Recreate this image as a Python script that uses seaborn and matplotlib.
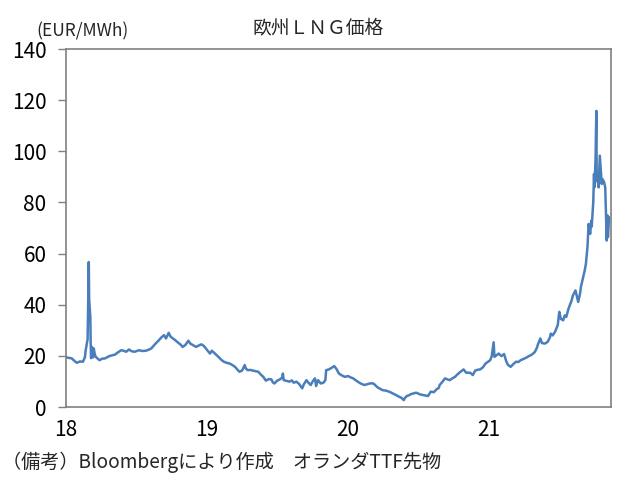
import matplotlib
matplotlib.use("Agg")
import matplotlib.pyplot as plt
import pandas as pd
import seaborn as sns

# TTF front-month price (EUR/MWh)
dates = [
    "2018-01-02", "2018-01-09", "2018-01-16", "2018-01-23", "2018-01-29", "2018-02-06",
    "2018-02-14", "2018-02-19", "2018-02-21", "2018-02-26", "2018-03-01", "2018-03-02",
    "2018-03-05", "2018-03-06", "2018-03-07", "2018-03-09", "2018-03-12", "2018-03-14",
    "2018-03-16", "2018-03-19", "2018-03-29", "2018-04-05", "2018-04-12", "2018-04-23",
    "2018-04-30", "2018-05-08", "2018-05-15", "2018-05-24", "2018-05-30", "2018-06-06",
    "2018-06-13", "2018-06-20", "2018-06-28", "2018-07-09", "2018-07-18", "2018-07-27",
    "2018-08-03", "2018-08-10", "2018-08-21", "2018-08-29", "2018-09-05", "2018-09-12",
    "2018-09-17", "2018-09-24", "2018-09-29", "2018-10-05", "2018-10-12", "2018-10-19",
    "2018-10-25", "2018-10-30", "2018-11-06", "2018-11-14", "2018-11-19", "2018-11-26",
    "2018-12-04", "2018-12-13", "2018-12-18", "2018-12-24",
    "2019-01-02", "2019-01-09", "2019-01-14", "2019-01-21", "2019-01-31", "2019-02-07",
    "2019-02-14", "2019-02-21", "2019-03-01", "2019-03-08", "2019-03-15", "2019-03-20",
    "2019-03-26", "2019-04-02", "2019-04-09", "2019-04-12", "2019-04-17", "2019-04-24",
    "2019-05-01", "2019-05-08", "2019-05-14", "2019-05-20", "2019-05-27", "2019-06-03",
    "2019-06-10", "2019-06-17", "2019-06-21", "2019-06-25", "2019-07-02", "2019-07-09",
    "2019-07-15", "2019-07-17", "2019-07-19", "2019-07-26", "2019-08-03", "2019-08-09",
    "2019-08-14", "2019-08-21", "2019-08-28", "2019-09-05", "2019-09-09", "2019-09-16",
    "2019-09-21", "2019-09-27", "2019-10-02", "2019-10-08", "2019-10-11", "2019-10-16",
    "2019-10-23", "2019-10-30", "2019-11-04", "2019-11-06", "2019-11-13", "2019-11-20",
    "2019-11-27", "2019-12-03", "2019-12-09", "2019-12-16", "2019-12-24",
    "2020-01-02", "2020-01-08", "2020-01-15", "2020-01-22", "2020-01-31", "2020-02-06",
    "2020-02-13", "2020-02-20", "2020-02-27", "2020-03-04", "2020-03-09", "2020-03-13",
    "2020-03-18", "2020-03-24", "2020-03-31", "2020-04-09", "2020-04-17", "2020-04-23",
    "2020-04-29", "2020-05-06", "2020-05-13", "2020-05-19", "2020-05-25", "2020-05-28",
    "2020-06-02", "2020-06-08", "2020-06-12", "2020-06-19", "2020-06-26", "2020-07-01",
    "2020-07-07", "2020-07-13", "2020-07-20", "2020-07-27", "2020-08-03", "2020-08-11",
    "2020-08-18", "2020-08-24", "2020-08-26", "2020-09-02", "2020-09-09", "2020-09-15",
    "2020-09-21", "2020-09-28", "2020-10-05", "2020-10-10", "2020-10-16", "2020-10-21",
    "2020-10-27", "2020-11-03", "2020-11-13", "2020-11-20", "2020-11-26", "2020-12-01",
    "2020-12-09", "2020-12-16", "2020-12-23",
    "2021-01-04", "2021-01-08", "2021-01-13", "2021-01-15", "2021-01-26", "2021-02-02",
    "2021-02-09", "2021-02-15", "2021-02-19", "2021-02-26", "2021-03-05", "2021-03-12",
    "2021-03-18", "2021-03-24", "2021-03-31", "2021-04-09", "2021-04-14", "2021-04-20",
    "2021-04-26", "2021-04-30", "2021-05-06", "2021-05-07", "2021-05-14", "2021-05-18",
    "2021-05-26", "2021-06-02", "2021-06-08", "2021-06-10", "2021-06-15", "2021-06-21",
    "2021-06-28", "2021-07-01", "2021-07-02", "2021-07-06", "2021-07-12", "2021-07-16",
    "2021-07-20", "2021-07-26", "2021-08-03", "2021-08-06", "2021-08-13", "2021-08-17",
    "2021-08-20", "2021-08-25", "2021-08-27", "2021-09-02", "2021-09-06", "2021-09-09",
    "2021-09-13", "2021-09-16", "2021-09-20", "2021-09-23", "2021-09-24", "2021-09-28",
    "2021-09-30", "2021-10-01", "2021-10-04", "2021-10-06", "2021-10-07", "2021-10-08",
    "2021-10-12", "2021-10-15", "2021-10-19", "2021-10-20", "2021-10-22", "2021-10-26",
    "2021-10-29", "2021-11-02", "2021-11-04", "2021-11-05", "2021-11-08",
]
prices = [
    19.4, 19.2, 19.0, 18.0, 17.3, 17.8,
    17.7, 19.5, 22.2, 26.5, 56.7, 42.0,
    35.2, 24.5, 19.1, 23.5, 19.4, 22.9,
    21.0, 19.6, 18.3, 18.9, 19.0, 19.9,
    20.2, 20.5, 21.3, 22.2, 22.0, 21.6,
    22.5, 21.8, 21.6, 22.2, 21.9, 22.0,
    22.4, 22.9, 24.8, 26.0, 27.2, 28.1,
    26.8, 29.0, 27.5, 26.8, 26.0, 25.1,
    24.4, 23.5, 24.2, 25.9, 24.8, 24.2,
    23.5, 24.2, 24.5, 23.9,
    22.2, 20.9, 22.0, 21.0, 19.6, 18.5,
    17.7, 17.3, 17.0, 16.4, 15.7, 14.8,
    13.8, 14.2, 16.4, 15.0, 14.4, 14.5,
    14.2, 14.0, 13.8, 12.8, 11.8, 10.3,
    10.9, 10.8, 9.6, 9.2, 10.3, 10.8,
    11.5, 13.1, 10.5, 10.2, 9.9, 10.4,
    9.5, 9.9, 9.0, 7.3, 8.8, 10.5,
    9.5, 8.6, 10.0, 11.2, 8.2, 10.5,
    9.2, 9.5, 10.5, 14.4, 14.7, 15.3,
    16.0, 14.8, 13.1, 12.4, 11.8,
    12.1, 11.6, 11.2, 10.4, 9.5, 9.0,
    8.6, 8.9, 9.2, 9.3, 9.0, 8.4,
    7.7, 7.2, 6.6, 6.4, 6.0, 5.6,
    5.1, 4.6, 4.0, 3.6, 2.7, 3.5,
    4.3, 4.6, 5.0, 5.3, 5.6, 5.3,
    4.9, 4.7, 4.5, 4.3, 6.0, 5.8,
    6.9, 7.5, 8.6, 9.8, 11.2, 10.8,
    10.5, 11.2, 11.8, 12.6, 13.4, 14.0,
    14.7, 13.4, 13.4, 12.5, 14.2, 14.5,
    14.7, 15.5, 17.0,
    18.3, 19.9, 25.3, 19.6, 20.9, 19.9,
    20.7, 17.7, 16.5, 15.7, 16.8, 17.7,
    17.6, 18.3, 18.8, 19.4, 19.9, 20.3,
    21.0, 21.6, 23.5, 24.2, 26.8, 25.0,
    24.8, 25.5, 27.3, 28.7, 28.0, 29.4,
    32.0, 35.9, 37.2, 34.5, 33.9, 35.8,
    35.2, 38.5, 41.7, 43.5, 45.6, 43.0,
    41.1, 44.5, 46.9, 50.8, 53.5, 56.0,
    62.5, 71.6, 67.7, 72.9, 70.5, 80.0,
    91.1, 85.9, 97.0, 115.8, 88.5, 90.0,
    85.9, 98.3, 89.8, 87.2, 89.1, 88.0,
    85.9, 65.1, 74.9, 66.4, 74.2,
]
year_ticks = ["2018-01-01", "2019-01-01", "2020-01-01", "2021-01-01"]
year_labels = ["18", "19", "20", "21"]

sns.set_theme(style="white")
plt.rcParams['font.family'] = ['Noto Sans CJK JP', 'DejaVu Sans']

df = pd.DataFrame({"date": pd.to_datetime(dates), "price": prices})

fig = plt.figure(figsize=(6.22, 4.82), dpi=100)
ax = fig.add_axes([66 / 622, 1 - 407 / 482, 545 / 622, 358 / 482])

sns.lineplot(data=df, x="date", y="price", ax=ax, color="#4a7ebb", linewidth=1.8)

ax.set_xlim(pd.Timestamp("2018-01-01"), pd.Timestamp("2021-11-13"))
ax.set_ylim(0, 140)
ax.set_yticks(range(0, 141, 20))
ax.set_xticks(pd.to_datetime(year_ticks))
ax.set_xticklabels(year_labels)
ax.set_xlabel("")
ax.set_ylabel("")

ax.tick_params(axis="y", left=True, length=6, width=1, color="#808080",
               labelsize=15, pad=8, labelcolor="black")
ax.tick_params(axis="x", bottom=False, labelsize=15, pad=3, labelcolor="black")
for sp in ax.spines.values():
    sp.set_visible(True)
    sp.set_color("#808080")
    sp.set_linewidth(1.2)

fig.text(318 / 622, 1 - 28 / 482, "欧州ＬＮＧ価格", ha="center", va="center", fontsize=13.5)
fig.text(36 / 622, 1 - 31 / 482, "(EUR/MWh)", ha="left", va="center", fontsize=12.5)
fig.text(2 / 622, 1 - 462 / 482, "（備考）Bloombergにより作成　オランダTTF先物",
         ha="left", va="center", fontsize=13.8)

fig.savefig("out.png", dpi=100)
